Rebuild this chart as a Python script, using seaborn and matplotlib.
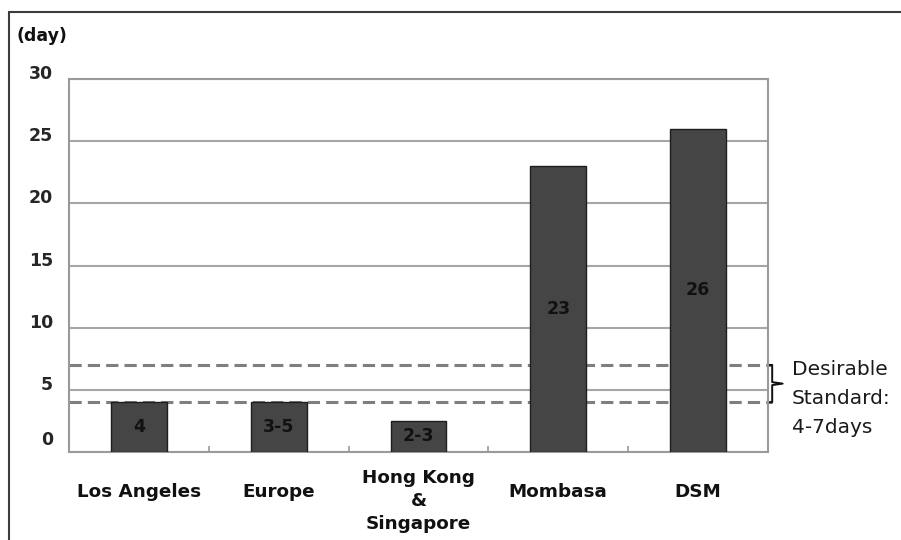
import pandas as pd
import seaborn as sns
import matplotlib.pyplot as plt
import matplotlib.transforms as mtransforms
from matplotlib.lines import Line2D
from matplotlib.patches import Rectangle

# Container dwell time by port
destinations = ["Los Angeles", "Europe", "Hong Kong\n&\nSingapore", "Mombasa", "DSM"]
dwell_days = [4, 4, 2.5, 23, 26]
value_labels = ["4", "3-5", "2-3", "23", "26"]
y_ticks = [0, 5, 10, 15, 20, 25, 30]
standard_low, standard_high = 4, 7
standard_note = "Desirable\nStandard:\n4-7days"
unit_label = "(day)"

sns.set_style("white")
plt.rcParams["font.family"] = ["DejaVu Sans"]

LABEL_SIZE = 12.5

df = pd.DataFrame({"destination": destinations, "days": dwell_days})

W, H = 901, 540
fig = plt.figure(figsize=(W / 100, H / 100), dpi=100)
ax = fig.add_axes([69 / W, 88 / H, 699 / W, 373 / H])

sns.barplot(data=df, x="destination", y="days", color="#454545", saturation=1,
            width=0.4, edgecolor="#1e1e1e", linewidth=1.0, ax=ax, zorder=3)

ax.set_xlim(-0.5, len(destinations) - 0.5)
ax.set_ylim(0, 30)
ax.set_xlabel("")
ax.set_ylabel("")
ax.set_axisbelow(True)
ax.yaxis.grid(True, color="#a6a6a6", linewidth=1.5, zorder=0)
ax.xaxis.grid(False)

for side in ["left", "right", "top", "bottom"]:
    ax.spines[side].set_color("#9a9a9a")
    ax.spines[side].set_linewidth(1.5)

# y ticks
ax.set_yticks(y_ticks)
ax.set_yticklabels([str(t) for t in y_ticks], fontsize=LABEL_SIZE, fontweight="bold")
ax.tick_params(axis="y", length=0, pad=11.5)
for t, lab in zip(y_ticks, ax.get_yticklabels()):
    shift = 14 if t == 0 else 7
    lab.set_transform(lab.get_transform() +
                      mtransforms.ScaledTranslation(0, shift / 100, fig.dpi_scale_trans))

# x ticks: boundary marks only, category names drawn below
ax.set_xticks(range(len(destinations)))
ax.set_xticklabels([])
ax.tick_params(axis="x", which="major", length=0)
ax.set_xticks([i - 0.5 for i in range(len(destinations) + 1)], minor=True)
ax.tick_params(axis="x", which="minor", bottom=True, direction="in",
               length=4, width=1.2, color="#9a9a9a")

for i, name in enumerate(destinations):
    n = name.count("\n") + 1
    off_px = 31 - 7 * (n - 1)
    ax.annotate(name, xy=(i, 0), xycoords=("data", "axes fraction"),
                xytext=(0, -off_px * 0.72), textcoords="offset points",
                ha="center", va="top", fontsize=13.2, fontweight="bold",
                linespacing=1.35, color="#111111")

# value labels inside bars
for i, (v, lbl) in enumerate(zip(dwell_days, value_labels)):
    ax.text(i, v / 2, lbl, ha="center", va="center", fontsize=LABEL_SIZE,
            fontweight="bold", color="#111111", zorder=5)

# desirable standard band
for yv in (standard_low, standard_high):
    ax.plot([0, 1.006], [yv, yv], transform=ax.get_yaxis_transform(),
            color="#7f7f7f", linewidth=2.2, dashes=(4, 2), clip_on=False, zorder=2)

mid = (standard_low + standard_high) / 2
brace = Line2D([1.0, 1.006, 1.006, 1.021, 1.006, 1.006, 1.0],
               [standard_high, standard_high, mid + 0.12, mid, mid - 0.12,
                standard_low, standard_low],
               transform=ax.get_yaxis_transform(), color="#111111",
               linewidth=1.4, clip_on=False)
ax.add_line(brace)
ax.text(1.034, 4.3, standard_note, transform=ax.get_yaxis_transform(),
        ha="left", va="center", fontsize=14.5, linespacing=1.65,
        color="#1a1a1a", clip_on=False)

fig.text(17 / W, 1 - 36 / H, unit_label, ha="left", va="center",
         fontsize=LABEL_SIZE, fontweight="bold", color="#111111")

# outer frame
fig.add_artist(Rectangle((9 / W, -0.1), 1.2, 1 - 12 / H + 0.1,
                         transform=fig.transFigure, fill=False,
                         edgecolor="#3c3c3c", linewidth=1.5, clip_on=False))

fig.savefig("out.png", dpi=100)
